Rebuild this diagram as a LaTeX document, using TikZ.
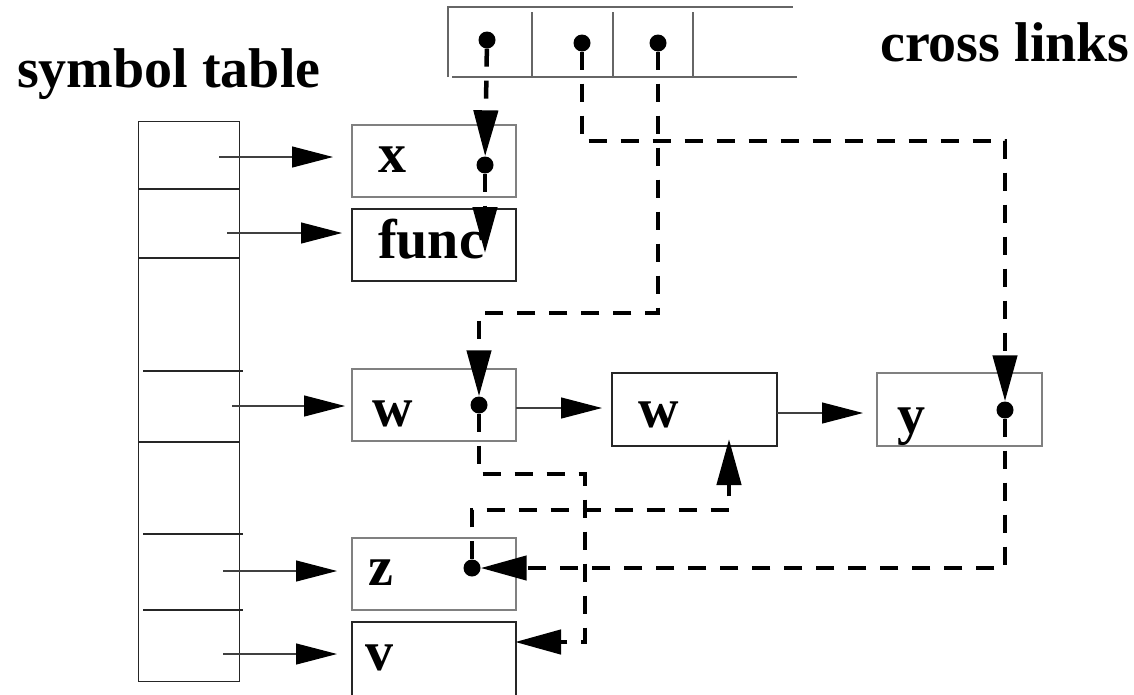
\documentclass[tikz,border=0pt]{standalone}
\usepackage{fontspec}
\setmainfont{Liberation Serif}
\usetikzlibrary{arrows.meta}
\begin{document}
\begin{tikzpicture}[x=1pt,y=-1pt,
  box/.style={draw=black!50,line width=1.2pt,minimum width=164pt,minimum height=72pt,inner sep=0pt},
  darkbox/.style={box,draw=black!85},
  lbl/.style={font=\fontsize{56}{60}\selectfont\bfseries,inner sep=0pt,anchor=base west},
  dot/.style={circle,fill=black,minimum size=17pt,inner sep=0pt},
  ptr/.style={draw=black!75,line width=1.2pt,-{Triangle[length=41pt,width=21pt,color=black]}},
  link/.style={line width=4.5pt,dash pattern=on 18pt off 14pt,-{Triangle[length=46pt,width=24pt]}},
  grid/.style={draw=black!60,line width=1.2pt},
  rule/.style={draw=black!85,line width=1.2pt}]
\useasboundingbox (0,0) rectangle (1134,694);

% titles
\node[lbl] (tsym) at (17,87) {symbol table};
\node[lbl] (tcross) at (880,61) {cross links};

% symbol table
\node[rule,minimum width=101pt,minimum height=560pt,inner sep=0pt,anchor=north west] (symtab) at (138,121) {};
\draw[rule] (138,189) -- (239,189);
\draw[rule] (138,258) -- (239,258);
\draw[rule] (143,371) -- (243,371);
\draw[rule] (138,442) -- (239,442);
\draw[rule] (143,534) -- (243,534);
\draw[rule] (143,610) -- (243,610);

% cross links array
\draw[grid] (448,77) -- (448,7) -- (793,7);
\draw[grid] (452,77) -- (797,77);
\foreach \cx in {532,613,693} \draw[grid] (\cx,12) -- (\cx,77);
\node[dot] (c1) at (487,40) {};
\node[dot] (c2) at (582,43) {};
\node[dot] (c3) at (658,43) {};

% entries
\node[box] (bx) at (434,161) {};
\node[darkbox] (bfunc) at (434,245) {};
\node[box] (bw1) at (434,405) {};
\node[darkbox,minimum width=165pt,minimum height=73pt] (bw2) at (694.5,409.5) {};
\node[box,minimum width=165pt,minimum height=73pt] (by) at (959.5,409.5) {};
\node[box] (bz) at (434,574) {};
\node[darkbox,minimum height=76pt] (bv) at (434,660) {};

\node[lbl] (lx) at (378,172) {x};
\node[lbl] (lfunc) at (378,258) {func};
\node[lbl] (lw1) at (372,426) {w};
\node[lbl] (lw2) at (638,427) {w};
\node[lbl] (ly) at (897,433) {y};
\node[lbl] (lz) at (368,585) {z};
\node[lbl] (lv) at (365,670) {v};

% pointer dots inside entries
\node[dot] (dx) at (485,165) {};
\node[dot] (dw) at (479,405) {};
\node[dot] (dy) at (1005,410) {};
\node[dot] (dz) at (472,568) {};

% symbol table pointers
\coordinate (s1) at (219,157); \coordinate (e1) at (333,157);
\coordinate (s2) at (227,233); \coordinate (e2) at (342,233);
\coordinate (s3) at (232,406); \coordinate (e3) at (345,406);
\coordinate (s4) at (223,571); \coordinate (e4) at (337,571);
\coordinate (s5) at (223,654); \coordinate (e5) at (337,654);
\draw[ptr] (s1) -- (e1);
\draw[ptr] (s2) -- (e2);
\draw[ptr] (s3) -- (e3);
\draw[ptr] (s4) -- (e4);
\draw[ptr] (s5) -- (e5);

% chain links
\coordinate (w1out) at (516,408); \coordinate (w2in) at (602,408);
\coordinate (w2out) at (777,413); \coordinate (yin) at (863,413);
\draw[ptr] (w1out) -- (w2in);
\draw[ptr] (w2out) -- (yin);

% cross links
\coordinate (funcin) at (485,253);
\coordinate (vin) at (515,642);
\coordinate (w2bot) at (729,439);
\draw[link] (c1) -- (dx);
\draw[link] (dx) -- (funcin);
\draw[link] (c2) |- (1005,141) -- (dy);
\draw[link] (c3) |- (479,313) -- (dw);
\draw[link] (dw) |- (585,474) |- (vin);
\draw[link] (dz) |- (729,510) -- (w2bot);
\draw[link] (dy) |- (dz);
\end{tikzpicture}
\end{document}
